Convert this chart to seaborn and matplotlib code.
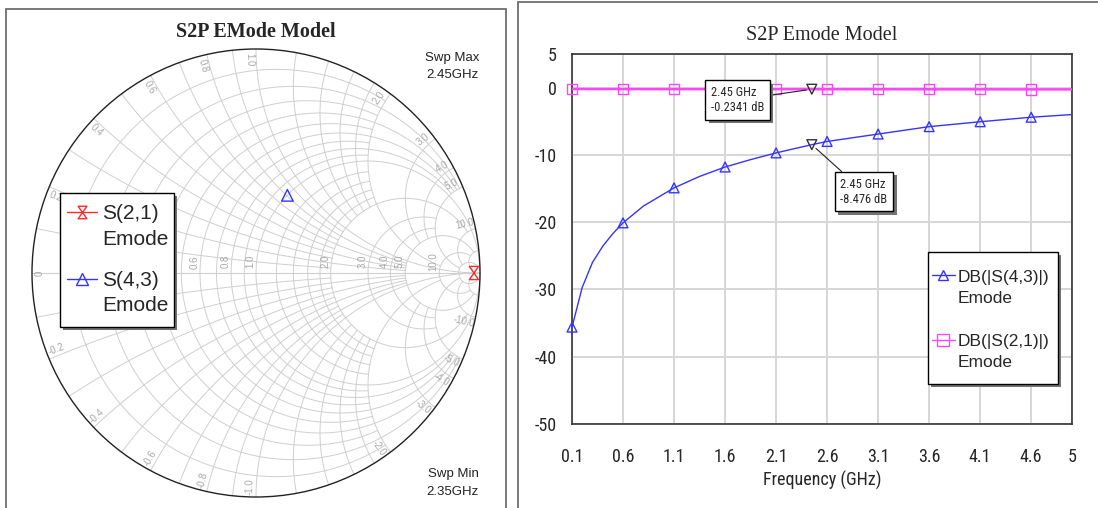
import numpy as np
import pandas as pd
import matplotlib
matplotlib.use("Agg")
import matplotlib.pyplot as plt
import matplotlib.patheffects as pe
from matplotlib.patches import Rectangle, Circle
from matplotlib.lines import Line2D
from matplotlib.path import Path
from matplotlib.legend_handler import HandlerLine2D
from matplotlib import font_manager
import seaborn as sns

# ---- dados do grafico retangular (DB x frequencia) ----
freq_ghz = [0.1, 0.2, 0.3, 0.4, 0.5, 0.6, 0.8, 1.1, 1.35, 1.6, 1.85, 2.1,
            2.45, 2.6, 3.1, 3.6, 4.1, 4.6, 5.0]
s43_db = [-35.6, -29.7, -26.0, -23.6, -21.7, -20.1, -17.6, -14.9, -13.2,
          -11.8, -10.7, -9.7, -8.476, -8.0, -6.9, -5.8, -5.07, -4.4, -4.0]
s21_db = [-0.2, -0.2, -0.21, -0.21, -0.21, -0.21, -0.22, -0.22, -0.22,
          -0.23, -0.23, -0.23, -0.2341, -0.24, -0.24, -0.25, -0.25, -0.26, -0.26]
marker_freq = [0.1, 0.6, 1.1, 1.6, 2.1, 2.6, 3.1, 3.6, 4.1, 4.6]

mk_freq = 2.45
mk_s21 = -0.2341
mk_s43 = -8.476

x_ticks = [0.1, 0.6, 1.1, 1.6, 2.1, 2.6, 3.1, 3.6, 4.1, 4.6, 5.0]
x_tick_labels = ["0.1", "0.6", "1.1", "1.6", "2.1", "2.6", "3.1", "3.6", "4.1", "4.6", "5"]
y_ticks = [5, 0, -10, -20, -30, -40, -50]

# ---- dados da carta de Smith (varredura 2.35 - 2.45 GHz) ----
swp_max = "2.45GHz"
swp_min = "2.35GHz"
s21_mag = [0.973]
s21_ang = [0.0]
s43_mag = [0.374]
s43_ang = [68.0]

W, H = 1098, 508
BLUE = "#3434ff"
PINK = "#ff44ff"
RED = "#ff2a2a"
GRID = "#cfcfcf"

sns.set_style("white")
plt.rcParams["font.family"] = ["Liberation Sans", "DejaVu Sans"]
plt.rcParams["axes.unicode_minus"] = False

# fonte estreita (se existir); senao Liberation Sans um pouco menor
nomes = {f.name for f in font_manager.fontManager.ttflist}
NARROW, FATOR = "Liberation Sans", 0.88
for cand in ["Liberation Sans Narrow", "Arial Narrow", "Roboto Condensed"]:
    if cand in nomes:
        NARROW, FATOR = cand, 1.0
        break


def px(x, y):
    """pixel da imagem -> coordenada de figura"""
    return x / W, 1 - y / H


class HandlerTopo(HandlerLine2D):
    """desenha o simbolo da legenda alinhado com a primeira linha do texto"""
    def __init__(self, desloc=0.6, **kw):
        super().__init__(**kw)
        self.desloc = desloc

    def create_artists(self, legend, orig_handle, xdescent, ydescent,
                       width, height, fontsize, trans):
        arts = super().create_artists(legend, orig_handle, xdescent, ydescent,
                                      width, height, fontsize, trans)
        for a in arts:
            a.set_ydata(np.asarray(a.get_ydata()) + self.desloc * fontsize)
        return arts


def sombra(patch, d=2.5):
    patch.set_path_effects([pe.SimplePatchShadow(offset=(d, -d), shadow_rgbFace="0.45", alpha=1.0),
                            pe.Normal()])


def caixaLegenda(ax, x0, y0, x1, y1, z):
    """moldura com sombra da legenda, em pixels da figura"""
    r = Rectangle(px(x0, y1), (x1 - x0) / W, (y1 - y0) / H, transform=fig.transFigure,
                  fc="white", ec="black", lw=1.0, zorder=z, clip_on=False)
    sombra(r, 2.5)
    ax.add_patch(r)


def gamma(z):
    return (z - 1) / (z + 1)


ampulheta = Path([(-0.7, 1), (0.7, 1), (-0.7, -1), (0.7, -1), (-0.7, 1)],
                 [Path.MOVETO, Path.LINETO, Path.LINETO, Path.LINETO, Path.CLOSEPOLY])


def desenharSmith(ax):
    grade = [(0.1, 2), (0.2, 5), (0.3, 2), (0.4, 5), (0.5, 2), (0.6, 5), (0.7, 2),
             (0.8, 5), (0.9, 2), (1.0, 1e6), (1.2, 2), (1.4, 2), (1.6, 2), (1.8, 2),
             (2.0, 10), (3.0, 5), (4.0, 5), (5.0, 20), (10.0, 20), (20.0, 50)]
    for r, xmax in grade:
        t = np.linspace(-np.arctan(xmax), np.arctan(xmax), 500)
        g = gamma(r + 1j * np.tan(t))
        ax.plot(g.real, g.imag, color=GRID, lw=0.7, zorder=1, clip_on=False)
    for x, rmax in grade:
        rr = np.tan(np.linspace(0, np.arctan(rmax), 400))
        for s in (1, -1):
            g = gamma(rr + 1j * s * x)
            ax.plot(g.real, g.imag, color=GRID, lw=0.7, zorder=1, clip_on=False)
    ax.plot([-1, 1], [0, 0], color=GRID, lw=0.8, zorder=1)
    ax.add_patch(Circle((0, 0), 1, fill=False, ec="#222222", lw=1.0, zorder=3, clip_on=False))

    cor_txt = "#a8a8a8"
    # 0.2 e 0.4 ficam escondidos atras da legenda
    for r in [0.6, 0.8, 1.0, 2.0, 3.0, 4.0, 5.0, 10.0]:
        g = (r - 1) / (r + 1)
        ax.text(g - 0.025, 0.05, f"{r:.1f}", rotation=90, ha="center", va="center",
                fontsize=7, color=cor_txt, zorder=2)
    ax.text(-0.965, 0.0, "0", rotation=90, ha="center", va="center", fontsize=7, color=cor_txt)
    for x in [0.2, 0.4, 0.6, 0.8, 1.0, 2.0, 3.0, 4.0, 5.0, 10.0]:
        for s in (1, -1):
            th = np.angle(gamma(1j * s * x)) + s * np.radians(1.7)
            rot = np.degrees(th)
            if rot > 90:
                rot -= 180
            if rot < -90:
                rot += 180
            ax.text(0.955 * np.cos(th), 0.955 * np.sin(th), f"{s * x:.1f}", rotation=rot,
                    ha="center", va="center", fontsize=7, color=cor_txt, zorder=2)


fig = plt.figure(figsize=(W / 100, H / 100), dpi=100)

# molduras dos dois paineis
fig.patches.append(Rectangle(px(6, 520), (506 - 6) / W, (520 - 9) / H, transform=fig.transFigure,
                             fill=False, ec="#6e6e6e", lw=1.3))
fig.patches.append(Rectangle(px(518, 520), (1110 - 518) / W, (520 - 2) / H, transform=fig.transFigure,
                             fill=False, ec="#6e6e6e", lw=1.3))

# ---------------- carta de Smith ----------------
ax_s = fig.add_axes([32 / W, (H - 497) / H, 448 / W, 448 / H])
ax_s.set_xlim(-1, 1)
ax_s.set_ylim(-1, 1)
ax_s.set_axis_off()
desenharSmith(ax_s)

g21 = np.array(s21_mag) * np.exp(1j * np.radians(s21_ang))
g43 = np.array(s43_mag) * np.exp(1j * np.radians(s43_ang))
sns.scatterplot(x=g21.real, y=g21.imag, ax=ax_s, marker=ampulheta, s=90,
                facecolor="none", edgecolor=RED, linewidth=1.0, zorder=5, clip_on=False)
sns.scatterplot(x=g43.real, y=g43.imag, ax=ax_s, marker="^", s=70,
                facecolor="none", edgecolor=BLUE, linewidth=1.0, zorder=5)

h21 = Line2D([], [], color=RED, lw=1, marker=ampulheta, markersize=9,
             markerfacecolor="none", markeredgecolor=RED)
h43 = Line2D([], [], color=BLUE, lw=1, marker="^", markersize=8,
             markerfacecolor="none", markeredgecolor=BLUE)
caixaLegenda(ax_s, 60, 193, 174, 327, 6)
leg_s = ax_s.legend([h21, h43], ["S(2,1)\nEmode", "S(4,3)\nEmode"], loc="upper left",
                    bbox_to_anchor=px(67, 204), bbox_transform=fig.transFigure,
                    borderaxespad=0, borderpad=0, fontsize=15, handlelength=1.45,
                    handletextpad=0.25, labelspacing=1.05, frameon=False,
                    handler_map={Line2D: HandlerTopo(0.7)})
for t in leg_s.get_texts():
    t.set_linespacing(1.45)
leg_s.set_zorder(7)

fig.text(*px(256, 32), "S2P EMode Model", ha="center", va="center", fontsize=14.5,
         fontweight="bold", family=["Liberation Serif", "DejaVu Serif"])
fig.text(*px(479, 58), "Swp Max", ha="right", va="center", fontsize=9.5, color="#222222")
fig.text(*px(479, 75), swp_max, ha="right", va="center", fontsize=9.5, color="#222222")
fig.text(*px(479, 474), "Swp Min", ha="right", va="center", fontsize=9.5, color="#222222")
fig.text(*px(479, 492), swp_min, ha="right", va="center", fontsize=9.5, color="#222222")

# ---------------- grafico retangular ----------------
ax_r = fig.add_axes([572 / W, (H - 424) / H, 500 / W, 370 / H])
df = pd.DataFrame({"freq": freq_ghz, "s43": s43_db, "s21": s21_db})
dm = df[df["freq"].isin(marker_freq)]

sns.lineplot(data=df, x="freq", y="s21", ax=ax_r, color=PINK, lw=1.8, zorder=3)
sns.lineplot(data=df, x="freq", y="s43", ax=ax_r, color=BLUE, lw=1.0, zorder=3)
sns.scatterplot(data=dm, x="freq", y="s21", ax=ax_r, marker="s", s=55, facecolor="none",
                edgecolor=PINK, linewidth=1.0, zorder=4, clip_on=False)
sns.scatterplot(data=dm, x="freq", y="s43", ax=ax_r, marker="^", s=50, facecolor="none",
                edgecolor=BLUE, linewidth=1.0, zorder=4, clip_on=False)
sns.scatterplot(x=[mk_freq, mk_freq], y=[mk_s21, mk_s43], ax=ax_r, marker="v", s=50,
                facecolor="none", edgecolor="#333333", linewidth=1.0, zorder=5)

ax_r.set_xlim(0.1, 5.0)
ax_r.set_ylim(-50, 5)
ax_r.set_xticks(x_ticks)
ax_r.set_xticklabels(x_tick_labels)
ax_r.set_yticks(y_ticks)
ax_r.grid(True, color="#d6d6d6", lw=1.4, zorder=0)
ax_r.set_axisbelow(True)
ax_r.tick_params(length=0, labelsize=13 * FATOR)
ax_r.tick_params(axis="x", pad=17)
ax_r.tick_params(axis="y", pad=11)
for lab in ax_r.get_xticklabels() + ax_r.get_yticklabels():
    lab.set_family(NARROW)
for sp in ax_r.spines.values():
    sp.set_color("#333333")
    sp.set_linewidth(1.2)
ax_r.set_xlabel("Frequency (GHz)", fontsize=13 * FATOR, family=NARROW, labelpad=4)
ax_r.set_ylabel("")

caixa = dict(boxstyle="square,pad=0.45", fc="white", ec="black", lw=1.0)
a1 = ax_r.annotate(f"{mk_freq} GHz\n{mk_s21} dB", xy=(mk_freq, mk_s21), xytext=(1.46, -1.84),
                   textcoords="data", ha="left", va="center", fontsize=9 * FATOR, family=NARROW,
                   bbox=caixa, zorder=6,
                   arrowprops=dict(arrowstyle="-", color="#222222", lw=0.8, shrinkA=0, shrinkB=4))
a2 = ax_r.annotate(f"{mk_freq} GHz\n{mk_s43} dB", xy=(mk_freq, mk_s43), xytext=(2.73, -15.45),
                   textcoords="data", ha="left", va="center", fontsize=9 * FATOR, family=NARROW,
                   bbox=caixa, zorder=6,
                   arrowprops=dict(arrowstyle="-", color="#222222", lw=0.8, shrinkA=0, shrinkB=4))
for a in (a1, a2):
    sombra(a.get_bbox_patch())

hb = Line2D([], [], color=BLUE, lw=1, marker="^", markersize=7,
            markerfacecolor="none", markeredgecolor=BLUE)
hp = Line2D([], [], color=PINK, lw=1, marker="s", markersize=8,
            markerfacecolor="none", markeredgecolor=PINK)
caixaLegenda(ax_r, 928, 252, 1058, 384, 6)
leg_r = ax_r.legend([hb, hp], ["DB(|S(4,3)|)\nEmode", "DB(|S(2,1)|)\nEmode"], loc="upper left",
                    bbox_to_anchor=px(932, 270), bbox_transform=fig.transFigure,
                    borderaxespad=0, borderpad=0, fontsize=12.5, handlelength=1.3,
                    handletextpad=0.2, labelspacing=1.65, frameon=False,
                    handler_map={Line2D: HandlerTopo(0.72)})
for t in leg_r.get_texts():
    t.set_linespacing(1.47)
leg_r.set_zorder(7)

fig.text(*px(822, 35), "S2P Emode Model", ha="center", va="center", fontsize=14.5,
         family=["Liberation Serif", "DejaVu Serif"])

fig.savefig("out.png", dpi=100)
